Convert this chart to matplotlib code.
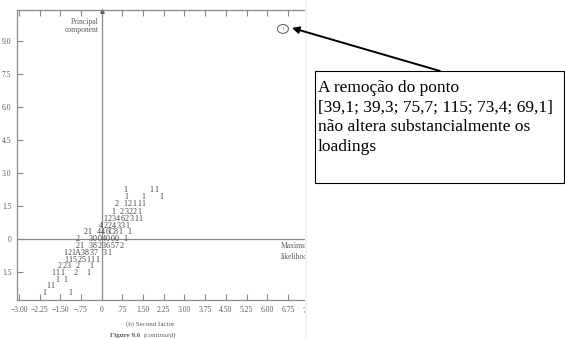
import numpy as np
import matplotlib as mpl
mpl.use('Agg')
import matplotlib.pyplot as plt
from matplotlib.patches import Rectangle, Circle, FancyArrowPatch

# character plot rows: (y value, start x value, text)
row_y = [2.23, 1.91, 1.59, 1.23, 0.91, 0.59, 0.32, 0.0, -0.32, -0.64, -0.95, -1.23, -1.55, -1.86, -2.14, -2.45]
row_x = [0.85, 0.88, 0.55, 0.41, 0.12, -0.03, -0.60, -0.89, -0.89, -1.33, -1.29, -1.51, -1.76, -1.62, -1.95, -2.09]
row_txt = ["1     11", "1   1   1", "2 12111", "1 23221", "123462311", "4224331",
           "21 446C81 1", "2  3004000 1", "21 38236572", "121A3837 31", "11525111",
           "223 2  1", "111  2  1", "1 1", "11", "1     1"]
char_step = 0.16

outlier = (6.57, 9.55)

xticks = [-3.0, -2.25, -1.5, -0.75, 0, 0.75, 1.5, 2.25, 3.0, 3.75, 4.5, 5.25, 6.0, 6.75]
xlabels = ["\u22123.00", "\u22122.25", "\u22121.50", "\u2212.75", "0", ".75", "1.50", "2.25",
           "3.00", "3.75", "4.50", "5.25", "6.00", "6.75"]
yticks = [9.0, 7.5, 6.0, 4.5, 3.0, 1.5, 0, -1.5]
ylabels = ["9.0", "7.5", "6.0", "4.5", "3.0", "1.5", "0", "1.5"]

note = ["A remoção do ponto",
        "[39,1; 39,3; 75,7; 115; 73,4; 69,1]",
        "não altera substancialmente os",
        "loadings"]

W, H = 565, 339
fig = plt.figure(figsize=(W / 100, H / 100), dpi=100)
ax = fig.add_axes([17 / W, (H - 300) / H, (305 - 17) / W, 290 / H])
ax.set_xlim(-3.07, 7.37)
ax.set_ylim(-2.77, 10.41)

gray = '#8a8a8a'
tgray = '#5a5a5a'
for s in ['left', 'top', 'bottom']:
    ax.spines[s].set_color(gray)
    ax.spines[s].set_linewidth(0.9)
ax.spines['right'].set_visible(False)

ax.set_xticks(xticks)
ax.set_xticklabels(xlabels)
ax.set_yticks(yticks)
ax.set_yticklabels(ylabels)
ax.tick_params(direction='in', length=4, width=0.8, color=gray, labelcolor=tgray,
               labelsize=5.5, pad=4, top=True)
for lab in ax.get_xticklabels() + ax.get_yticklabels():
    lab.set_family('Liberation Serif')

ax.axvline(0, color=gray, lw=0.9)
ax.axhline(0, color=gray, lw=0.9)
ax.plot([0], [10.35], marker='^', ms=2.5, color=tgray, clip_on=False)

for y, x0, txt in zip(row_y, row_x, row_txt):
    for i, ch in enumerate(txt):
        if ch != ' ':
            ax.text(x0 + i * char_step, y, ch, fontsize=5.8, family='Liberation Serif',
                    color='#404040', ha='center', va='center')

ax.text(outlier[0], outlier[1], "1", fontsize=3.5, family='Liberation Serif',
        color=tgray, ha='center', va='center')
ax.add_patch(Circle(outlier, 0.2, transform=ax.transData, fill=False, ec=tgray, lw=0.7))

ax.text(-0.1, 10.05, "Principal\ncomponent", fontsize=5.5, family='Liberation Serif',
        color=tgray, ha='right', va='top', linespacing=1.0)
ax.text(6.5, -0.15, "Maximum\nlikelihood", fontsize=5.5, family='Liberation Serif',
        color=tgray, ha='left', va='top', linespacing=1.5)
ax.text(7.45, -3.1, "7.5", fontsize=5.5, family='Liberation Serif', color=tgray,
        ha='center', va='top', clip_on=False)

# scan edge strip
fig.patches.append(Rectangle((305 / W, 0), 12 / W, 1, transform=fig.transFigure,
                             facecolor='#f2f2f2', edgecolor='none', zorder=5))
fig.patches.append(Rectangle((307 / W, 0), 258 / W, 1, transform=fig.transFigure,
                             facecolor='white', edgecolor='none', zorder=6))

fig.text(150 / W, 1 - 324 / H, "(b) Second factor", fontsize=5, family='Liberation Serif',
         color=tgray, ha='center', va='center')
fig.text(140 / W, 1 - 335 / H, "Figure 9.6", fontsize=5, family='Liberation Serif',
         weight='bold', color=tgray, ha='right', va='center')
fig.text(144 / W, 1 - 335 / H, "(continued)", fontsize=5, family='Liberation Serif',
         style='italic', color=tgray, ha='left', va='center')

# annotation box
fig.patches.append(Rectangle((315 / W, 1 - 183 / H), 249 / W, 112 / H, transform=fig.transFigure,
                             facecolor='white', edgecolor='black', lw=0.8, zorder=7))
for i, line in enumerate(note):
    fig.text(318 / W, 1 - (88 + i * 19.5) / H, line, fontsize=12.5, family='Liberation Serif',
             color='black', ha='left', va='center', zorder=8)

# arrow from the box to the circled point
tip = fig.transFigure.inverted().transform(ax.transData.transform(outlier))
arrow = FancyArrowPatch((440 / W, 1 - 71 / H), (tip[0] + 9 / W, tip[1] + 1 / H),
                        transform=fig.transFigure, arrowstyle='-|>', color='black',
                        lw=1.4, mutation_scale=10, shrinkA=0, shrinkB=0, zorder=9)
fig.add_artist(arrow)

fig.savefig('out.png', dpi=100)
